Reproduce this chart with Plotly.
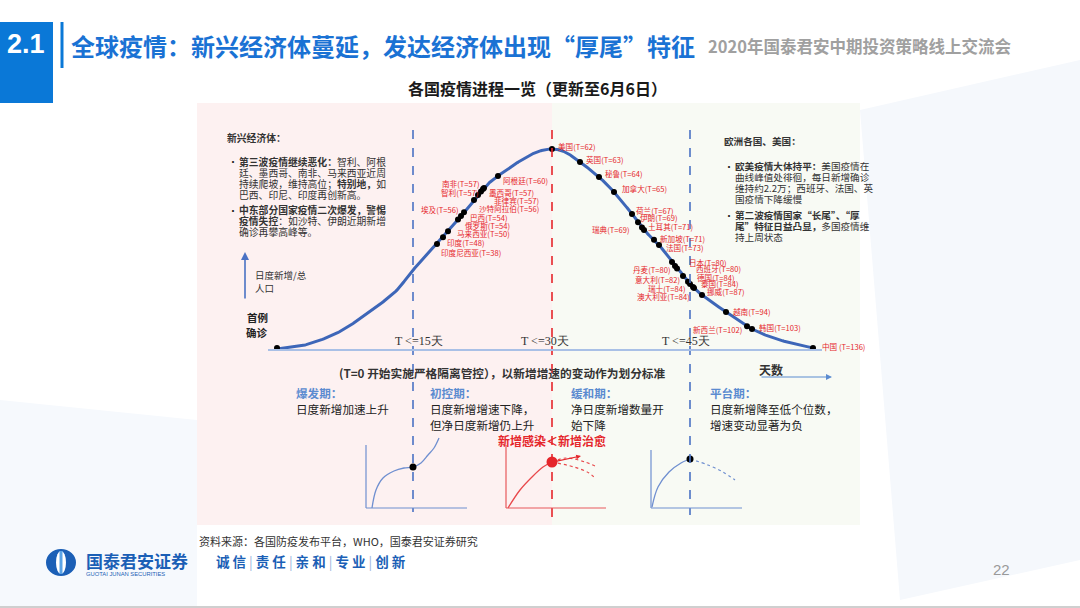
import numpy as np
import plotly.graph_objects as go

FONT = "Noto Sans CJK SC"
BLUE = "#3d66b8"
RED = "#e5262b"
LBLUE = "#5b8bd0"

# ---------------- data ----------------
curve_x = [277, 305, 337, 365, 395, 413, 437, 461, 484, 498, 520, 537, 552, 565, 580, 599, 614, 632,
           644, 659, 672, 683, 693, 702, 726, 752, 780, 813]
curve_y = [349, 345, 333, 315, 292, 270, 244, 216, 188, 176, 161, 152, 149, 152, 162, 177, 192, 214,
           230, 245, 262, 276, 287, 295, 312, 329, 340, 348]

countries = ["印度尼西亚", "印度", "马来西亚", "俄罗斯", "巴西", "埃及", "沙特阿拉伯", "菲律宾", "墨西哥",
             "智利", "南非", "阿根廷", "美国", "英国", "秘鲁", "加拿大", "荷兰", "伊朗", "土耳其", "瑞典",
             "新加坡", "法国", "日本", "丹麦", "西班牙", "意大利", "德国", "瑞士", "泰国", "澳大利亚",
             "挪威", "越南", "新西兰", "韩国", "中国"]
t_days = [38, 48, 50, 54, 54, 56, 56, 57, 57, 57, 57, 60, 62, 63, 64, 65, 67, 69, 71, 69,
          71, 73, 80, 80, 80, 82, 84, 84, 84, 84, 87, 94, 102, 103, 136]
progress = [437, 443, 448, 458, 461, 464, 474, 478, 481, 483, 484, 498, 552, 580, 599, 614, 632, 638,
            642, 644, 654, 659, 672, 675, 677, 683, 688, 690, 693, 694, 702, 726, 747, 752, 813]

# label placement (layout only)
label_pos = [(439, 252, "l"), (445, 242, "l"), (455, 233, "l"), (463, 225, "l"), (468, 217, "l"),
             (461, 209, "r"), (477, 208, "l"), (492, 200, "l"), (487, 192, "l"), (481, 192, "r"),
             (482, 183, "r"), (501, 180, "l"), (556, 146, "l"), (584, 159, "l"), (603, 173, "l"),
             (620, 188, "l"), (634, 210, "l"), (638, 217, "l"), (646, 226, "l"), (632, 229, "r"),
             (658, 238, "l"), (664, 247, "l"), (687, 262, "l"), (673, 269, "r"), (694, 268, "l"),
             (682, 279, "r"), (695, 277, "l"), (688, 288, "r"), (699, 283, "l"), (692, 296, "r"),
             (705, 291, "l"), (731, 311, "l"), (744, 329, "r"), (757, 327, "l"), (820, 346, "l")]

# mini schematic curves
m1_x = [372, 376, 383, 394, 404, 413, 421, 428, 434, 439]
m1_y = [508, 490, 478, 471, 468, 467, 463, 455, 448, 438]
m2_x = [508, 520, 532, 543, 552]
m2_y = [508, 490, 477, 467, 462]
m2a_x = [552, 566, 585, 597]
m2a_y = [462, 458, 462, 467]
m2b_x = [552, 574, 589, 596]
m2b_y = [462, 467, 473, 479]
m3_x = [652, 658, 669, 681, 690]
m3_y = [507, 487, 472, 463, 459]
m3a_x = [690, 708, 723, 735]
m3a_y = [459, 465, 472, 480]


def catmull(xs, ys, n=24):
    p = np.array(list(zip(xs, ys)), dtype=float)
    p = np.vstack([p[0], p, p[-1]])
    out = []
    for i in range(1, len(p) - 2):
        p0, p1, p2, p3 = p[i - 1], p[i], p[i + 1], p[i + 2]
        for t in np.linspace(0, 1, n, endpoint=False):
            t2, t3 = t * t, t * t * t
            out.append(0.5 * ((2 * p1) + (-p0 + p2) * t + (2 * p0 - 5 * p1 + 4 * p2 - p3) * t2
                              + (-p0 + 3 * p1 - 3 * p2 + p3) * t3))
    out.append(p[-2])
    out = np.array(out)
    return out[:, 0], out[:, 1]


cx, cy = catmull(curve_x, curve_y)
dot_y = np.interp(progress, cx, cy)

fig = go.Figure()

shapes = []
# background panels
shapes.append(dict(type="rect", x0=197, x1=552, y0=103, y1=525, fillcolor="#fdf1f1", line_width=0, layer="below"))
shapes.append(dict(type="rect", x0=552, x1=860, y0=103, y1=525, fillcolor="#f8faf4", line_width=0, layer="below"))
# faint background decoration
shapes.append(dict(type="path", path="M 860 110 L 1080 60 L 1080 560 L 900 600 Z", fillcolor="#f5f8fc", line_width=0, layer="below"))
shapes.append(dict(type="path", path="M 0 400 L 197 420 L 197 608 L 0 608 Z", fillcolor="#f6f9fd", line_width=0, layer="below"))
# header
shapes.append(dict(type="rect", x0=0, x1=53, y0=22, y1=103, fillcolor="#0a78d7", line_width=0))
shapes.append(dict(type="line", x0=62, x1=62, y0=22, y1=68, line=dict(color="#0a78d7", width=3)))
# dashed dividers
shapes.append(dict(type="line", x0=413, x1=413, y0=130, y1=512, line=dict(color="#4a72c4", width=1.6, dash="dash")))
shapes.append(dict(type="line", x0=552, x1=552, y0=130, y1=522, line=dict(color=RED, width=1.6, dash="dash")))
shapes.append(dict(type="line", x0=690, x1=690, y0=130, y1=515, line=dict(color="#4a72c4", width=1.6, dash="dash")))
# baseline
shapes.append(dict(type="line", x0=268, x1=822, y0=350, y1=350, line=dict(color="#a9c0e6", width=2)))
# mini chart axes
for x0, x1, ytop, col in [(366, 467, 445, "#6f8fd0"), (506, 606, 445, "#e8595c"), (651, 742, 450, "#6f8fd0")]:
    shapes.append(dict(type="line", x0=x0, x1=x0, y0=ytop, y1=508, line=dict(color=col, width=1.2)))
    shapes.append(dict(type="line", x0=x0, x1=x1, y0=508, y1=508, line=dict(color=col, width=1.2)))
# logo
shapes.append(dict(type="circle", x0=46, x1=76, y0=549, y1=576, fillcolor="#1b5fb6", line_width=0))
shapes.append(dict(type="circle", x0=56, x1=66, y0=551, y1=574, fillcolor="white", line_width=0))
shapes.append(dict(type="rect", x0=59.5, x1=62.5, y0=551, y1=574, fillcolor="#5aa3e6", line_width=0))
# bottom border
shapes.append(dict(type="line", x0=0, x1=1080, y0=607, y1=607, line=dict(color="#cfcfcf", width=2)))

# main curve
fig.add_trace(go.Scatter(x=cx, y=cy, mode="lines", line=dict(color=BLUE, width=3), hoverinfo="skip"))
# dots
fig.add_trace(go.Scatter(x=[curve_x[0]] + progress, y=[curve_y[0] - 1] + list(dot_y), mode="markers",
                         marker=dict(color="black", size=6), hoverinfo="skip"))
# mini curves
fig.add_trace(go.Scatter(x=m1_x, y=m1_y, mode="lines", line=dict(color="#6f8fd0", width=1.3, shape="spline")))
fig.add_trace(go.Scatter(x=[m1_x[5]], y=[m1_y[5]], mode="markers", marker=dict(color="black", size=7)))
fig.add_trace(go.Scatter(x=m2_x, y=m2_y, mode="lines", line=dict(color="#e8484b", width=1.3, shape="spline")))
fig.add_trace(go.Scatter(x=m2a_x, y=m2a_y, mode="lines", line=dict(color="#e8484b", width=1.2, dash="dot", shape="spline")))
fig.add_trace(go.Scatter(x=m2b_x, y=m2b_y, mode="lines", line=dict(color="#e8484b", width=1.2, dash="dot", shape="spline")))
fig.add_trace(go.Scatter(x=[m2_x[-1]], y=[m2_y[-1]], mode="markers", marker=dict(color=RED, size=11)))
fig.add_trace(go.Scatter(x=m3_x, y=m3_y, mode="lines", line=dict(color="#6f8fd0", width=1.3, shape="spline")))
fig.add_trace(go.Scatter(x=m3a_x, y=m3a_y, mode="lines", line=dict(color="#6f8fd0", width=1.2, dash="dot", shape="spline")))
fig.add_trace(go.Scatter(x=[m3_x[-1]], y=[m3_y[-1]], mode="markers", marker=dict(color="black", size=7)))

ann = []


def txt(x, y, s, size=10, color="#222", anchor="left", bold=False, family=FONT, yanchor="middle"):
    if bold:
        s = "<b>" + s + "</b>"
    ann.append(dict(x=x, y=y, text=s, showarrow=False, xanchor=anchor, yanchor=yanchor,
                    font=dict(family=family, size=size, color=color)))


# country labels
for name, t, (lx, ly, side) in zip(countries, t_days, label_pos):
    label = f"{name}(T={t})" if name != "中国" else f"{name} (T={t})"
    txt(lx, ly, label, size=7.6, color=RED, anchor="left" if side == "l" else "right")

# header
txt(26, 44, "2.1", size=27, color="white", anchor="center", bold=True, family="Liberation Sans")
txt(69, 45, "全球疫情：新兴经济体蔓延，发达经济体出现“厚尾”特征", size=24, color="#1a72d4", bold=True)
txt(1013, 46, "2020年国泰君安中期投资策略线上交流会", size=16.5, color="#a0a0a0", anchor="right", bold=True)
txt(537, 88, "各国疫情进程一览（更新至6月6日）", size=16, color="#1a1a1a", anchor="center", bold=True)

# left text box
left_lines = [
    (225, 138, "<b>新兴经济体：</b>"),
    (237, 161.5, "<b>第三波疫情继续恶化：</b>智利、阿根"),
    (237, 172.5, "廷、墨西哥、南非、马来西亚近周"),
    (237, 183.5, "持续爬坡，维持高位；<b>特别地，</b>如"),
    (237, 194.5, "巴西、印尼、印度再创新高。"),
    (237, 210, "<b>中东部分国家疫情二次爆发，警惕</b>"),
    (237, 221, "<b>疫情失控</b>：如沙特、伊朗近期新增"),
    (237, 232, "确诊再攀高峰等。"),
]
for x, y, s in left_lines:
    txt(x, y, s, size=9.8, color="#333")
txt(226, 161.5, "•", size=10, color="#222")
txt(226, 210, "•", size=10, color="#222")

# right text box
right_lines = [
    (722, 141, "<b>欧洲各国、美国：</b>"),
    (733, 166, "<b>欧美疫情大体持平：</b>美国疫情在"),
    (733, 177, "曲线峰值处徘徊，每日新增确诊"),
    (733, 188, "维持约2.2万；西班牙、法国、英"),
    (733, 199, "国疫情下降缓慢"),
    (733, 215, "<b>第二波疫情国家“长尾”、“厚</b>"),
    (733, 226, "<b>尾”特征日益凸显，</b>多国疫情维"),
    (733, 237, "持上周状态"),
]
for x, y, s in right_lines:
    txt(x, y, s, size=9.6, color="#333")
txt(722, 166, "•", size=10, color="#222")
txt(722, 215, "•", size=10, color="#222")

# y-axis label & arrow
txt(253, 275, "日度新增/总", size=9.5, color="#333")
txt(253, 288, "人口", size=9.5, color="#333")
ann.append(dict(x=245, y=252, ax=245, ay=300, xref="x", yref="y", axref="x", ayref="y", showarrow=True,
                arrowhead=2, arrowsize=1, arrowwidth=1.6, arrowcolor="#4a72c4", text=""))
txt(257, 317, "首例", size=10.5, color="#222", anchor="center", bold=True)
txt(257, 332, "确诊", size=10.5, color="#222", anchor="center", bold=True)

# T thresholds
txt(419, 341, "T <=15天", size=12, color="#333", anchor="center", family="Liberation Serif")
txt(545, 341, "T <=30天", size=12, color="#333", anchor="center", family="Liberation Serif")
txt(686, 341, "T <=45天", size=12, color="#333", anchor="center", family="Liberation Serif")

txt(502, 372, "(T=0 开始实施严格隔离管控），以新增增速的变动作为划分标准", size=11.7, color="#333", anchor="center", bold=True)
txt(771, 369, "天数", size=12, color="#333", anchor="center", bold=True)
ann.append(dict(x=832, y=377, ax=760, ay=377, xref="x", yref="y", axref="x", ayref="y", showarrow=True,
                arrowhead=2, arrowsize=1, arrowwidth=1.2, arrowcolor="#5b8bd0", text=""))

# stage texts
ST = 11.6
txt(294, 393, "<b>爆发期：</b>", size=ST, color=LBLUE)
txt(294, 409, "日度新增加速上升", size=ST, color="#222")
txt(428, 393, "<b>初控期：</b>", size=ST, color=LBLUE)
txt(428, 409, "日度新增增速下降，", size=ST, color="#222")
txt(428, 425, "但净日度新增仍上升", size=ST, color="#222")
txt(569, 393, "<b>缓和期：</b>", size=ST, color=LBLUE)
txt(569, 409, "净日度新增数量开", size=ST, color="#222")
txt(569, 425, "始下降", size=ST, color="#222")
txt(708, 393, "<b>平台期：</b>", size=ST, color=LBLUE)
txt(708, 409, "日度新增降至低个位数，", size=ST, color="#222")
txt(708, 425, "增速变动显著为负", size=ST, color="#222")
txt(552, 440, "新增感染＜新增治愈", size=12, color=RED, anchor="center", bold=True)
ann.append(dict(x=581, y=456, ax=553, ay=462, xref="x", yref="y", axref="x", ayref="y", showarrow=True,
                arrowhead=2, arrowsize=0.8, arrowwidth=1.2, arrowcolor=RED, text=""))

# footer
txt(197, 541, "资料来源：各国防疫发布平台，WHO，国泰君安证券研究", size=11, color="#333")
txt(84, 560, "<b>国泰君安证券</b>", size=17, color="#1b5fb6")
txt(84, 573.5, "GUOTAI JUNAN SECURITIES", size=5.8, color="#1b5fb6", family="Liberation Sans")
txt(214, 561, "<b>诚 信</b> <span style='color:#9bb5dc'>|</span> <b>责 任</b> <span style='color:#9bb5dc'>|</span> <b>亲 和</b> <span style='color:#9bb5dc'>|</span> <b>专 业</b> <span style='color:#9bb5dc'>|</span> <b>创 新</b>",
    size=13.5, color="#1b5fb6")
txt(1001, 569, "22", size=15, color="#9a9a9a", anchor="center", family="Liberation Sans")

fig.update_layout(
    width=1080, height=608, margin=dict(l=0, r=0, t=0, b=0),
    paper_bgcolor="white", plot_bgcolor="white", showlegend=False,
    xaxis=dict(range=[0, 1080], visible=False, fixedrange=True),
    yaxis=dict(range=[608, 0], visible=False, fixedrange=True),
    shapes=shapes, annotations=ann,
)
fig.write_html("out.html", config={"displayModeBar": False})
